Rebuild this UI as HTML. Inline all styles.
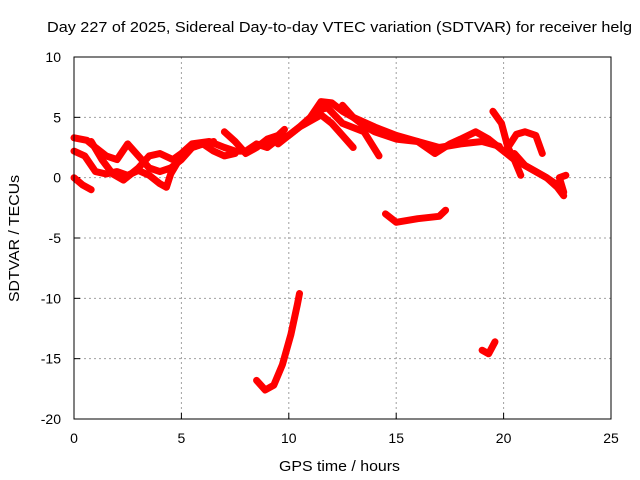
<!DOCTYPE html>
<html><head><meta charset="utf-8"><style>
body{margin:0;background:#fff;}
svg{display:block;font-family:"Liberation Sans",sans-serif;}
</style></head><body>
<svg id="chart" width="640" height="480" viewBox="0 0 640 480">
<text x="47" y="32" font-size="15" textLength="585" lengthAdjust="spacingAndGlyphs" fill="#000">Day 227 of 2025, Sidereal Day-to-day VTEC variation (SDTVAR) for receiver helg</text>
<g id="grid"></g>
<g id="axes"></g>
<g id="series"></g>
<rect x="74" y="57" width="537" height="362" fill="none" stroke="#000" stroke-width="1"/>
<text x="279" y="471" font-size="15" textLength="121" lengthAdjust="spacingAndGlyphs">GPS time / hours</text>
<text transform="translate(19,302) rotate(-90)" font-size="15" textLength="127" lengthAdjust="spacingAndGlyphs">SDTVAR / TECUs</text>
</svg>
<script>
const xTicks=[0,5,10,15,20,25];
const yTicks=[10,5,0,-5,-10,-15,-20];
const track1=[[0,3.3],[0.6,3.1],[1,2.5],[1.5,1.8],[2,1.5],[2.5,2.8],[3,1.8],[3.5,0.8],[4,0.5],[4.5,0.8],[5,1.5],[5.5,2.5],[6,2.8],[6.5,2.2],[7,1.8],[7.5,2.0]];
const track2=[[0,2.2],[0.5,1.8],[1,0.5],[1.5,0.3],[2,0.5],[2.5,0.2],[3,0.6],[3.5,0.2],[4,-0.5],[4.3,-0.8],[4.5,0.3],[5,1.8],[5.5,2.5],[6,2.8],[6.5,3.0]];
const track3=[[0,0],[0.4,-0.6],[0.8,-1.0]];
const track4=[[0.8,3.0],[1.3,1.5],[1.8,0.3],[2.3,-0.2],[3,0.8],[3.5,1.8],[4,2.0],[4.6,1.5],[5,2.0],[5.5,2.8],[6.3,3.0],[7,2.5],[7.5,2.2],[8,2.2],[8.5,2.8],[9,2.5],[9.5,3.2],[10,3.5],[10.5,4.2],[11,5.0],[11.5,6.3],[12,6.2],[12.5,5.5],[13,5.0],[13.5,4.3],[14,3.8],[15,3.2],[16,3.0],[16.8,2.0],[17.5,2.8],[18,3.2],[18.7,3.8],[19.3,3.2],[20,2.2],[20.5,1.5],[21,1.0],[21.5,0.5],[22,0],[22.5,-0.8],[22.8,-1.5]];
const track5=[[7.0,3.8],[7.5,3.0],[8,2.0],[8.5,2.5],[9,3.2],[9.5,3.5],[9.8,4.0]];
const track6=[[9.5,2.8],[10,3.5],[10.5,4.2],[11,4.7],[11.5,5.2],[12,4.5],[12.5,3.5],[13,2.5]];
const track7=[[11.2,5.5],[11.8,5.8],[12.5,4.5],[13.5,3.8],[14.2,1.8]];
const track8=[[12.5,6.0],[13,5.0],[14,4.2],[15,3.5],[16,3.0],[17,2.5],[18,2.8],[19,3.0],[19.8,2.6]];
const track9=[[19.5,5.5],[19.9,4.5],[20.2,2.5],[20.5,1.5],[20.8,0.2]];
const track10=[[20.2,2.5],[20.6,3.6],[21,3.8],[21.5,3.5],[21.8,2.0]];
const track11=[[20.5,2.0],[21,1.0],[22,0],[22.5,-0.6],[22.8,-1.2],[22.6,0.0],[22.9,0.2]];
const track12=[[14.5,-3.0],[15,-3.7],[16,-3.4],[17,-3.2],[17.3,-2.7]];
const track13=[[8.5,-16.8],[8.9,-17.6],[9.3,-17.2],[9.7,-15.5],[10.1,-13],[10.4,-10.5],[10.5,-9.6]];
const track14=[[19.0,-14.3],[19.3,-14.6],[19.6,-13.6]];
const tracks=[track1,track2,track3,track4,track5,track6,track7,track8,track9,track10,track11,track12,track13,track14];

const X0=74,X1=611,Y0=419,Y1=57;
function xs(h){return X0+(h-0)/(25-0)*(X1-X0);}
function ys(v){return Y0-(v+20)/(30)*(Y0-Y1);}
const NS="http://www.w3.org/2000/svg";
const grid=document.getElementById('grid'),axes=document.getElementById('axes'),ser=document.getElementById('series');
function mk(tag,attrs,parent){const e=document.createElementNS(NS,tag);for(const k in attrs)e.setAttribute(k,attrs[k]);parent.appendChild(e);return e;}
xTicks.forEach(t=>{
  const x=xs(t);
  if(t>0&&t<25){const g=mk('line',{x1:x,x2:x,y1:Y1,y2:Y0,stroke:'#a0a0a0','stroke-dasharray':'2,3'},grid);
  
  }
  const tk=mk('line',{x1:x,x2:x,y1:Y0,y2:Y0-6,stroke:'#000'},axes);
  
  
  const tx=mk('text',{x:x,y:Y0+24,'font-size':14,'text-anchor':'middle'},axes);tx.textContent=t;
  
  
});
yTicks.forEach(t=>{
  const y=ys(t);
  if(t>-20&&t<10){const g=mk('line',{x1:X0,x2:X1,y1:y,y2:y,stroke:'#a0a0a0','stroke-dasharray':'2,3'},grid);
  
  }
  const tk=mk('line',{x1:X0,x2:X0+6,y1:y,y2:y,stroke:'#000'},axes);
  
  
  const tx=mk('text',{x:61,y:y+5,'font-size':14,'text-anchor':'end'},axes);tx.textContent=t;
  
  
});
tracks.forEach(tr=>{
  const pts=tr.map(p=>xs(p[0]).toFixed(1)+','+ys(p[1]).toFixed(1)).join(' ');
  const pl=mk('polyline',{points:pts,fill:'none',stroke:'#ff0000','stroke-width':7,'stroke-linejoin':'round','stroke-linecap':'round'},ser);
  
  
});
</script>
</body></html>
